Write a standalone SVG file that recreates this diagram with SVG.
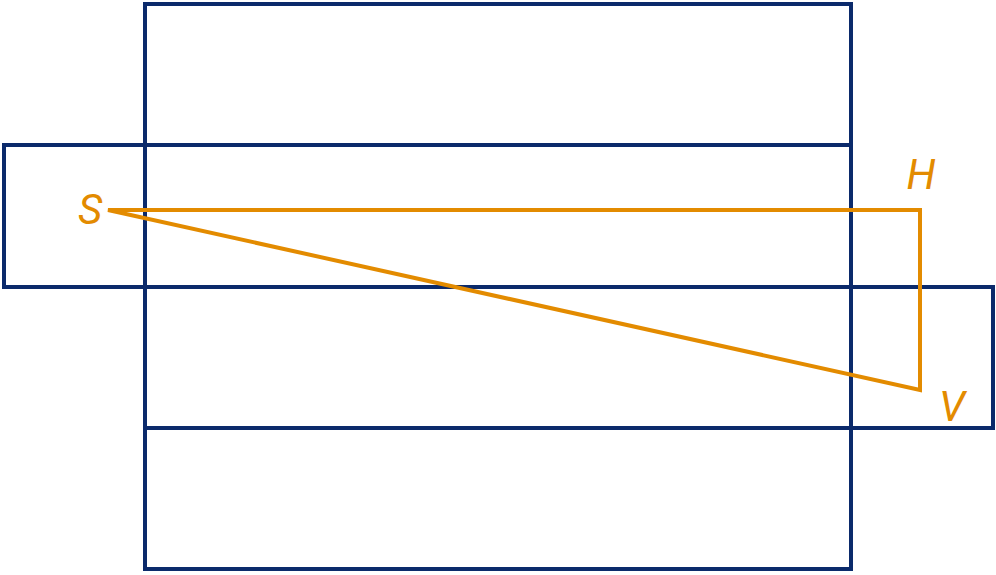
<svg xmlns="http://www.w3.org/2000/svg" width="996" height="575" viewBox="0 0 996 575">
<style>
.net{fill:none;stroke:#0b2a6b;stroke-width:4;stroke-linejoin:miter;stroke-linecap:square}
.path{fill:none;stroke:#e38b00;stroke-width:4;stroke-linejoin:miter;stroke-linecap:round}
.lbl{font-family:Roboto,"Liberation Sans",sans-serif;font-style:italic;font-size:42px;fill:#e38b00}
</style>
<rect width="996" height="575" fill="#fff"/>
<g id="net">
<rect x="145" y="4" width="706" height="565" class="net"/>
<polyline class="net" points="851,145 4,145 4,287 993,287 993,428 145,428"/>
</g>
<g id="connectors">
<polygon class="path" points="108,210 920,210 920,390"/>
</g>
<g id="labels">
<text class="lbl" x="90" y="224" text-anchor="middle">S</text>
<text class="lbl" x="921" y="189" text-anchor="middle">H</text>
<text class="lbl" x="952" y="421" text-anchor="middle">V</text>
</g>
</svg>
